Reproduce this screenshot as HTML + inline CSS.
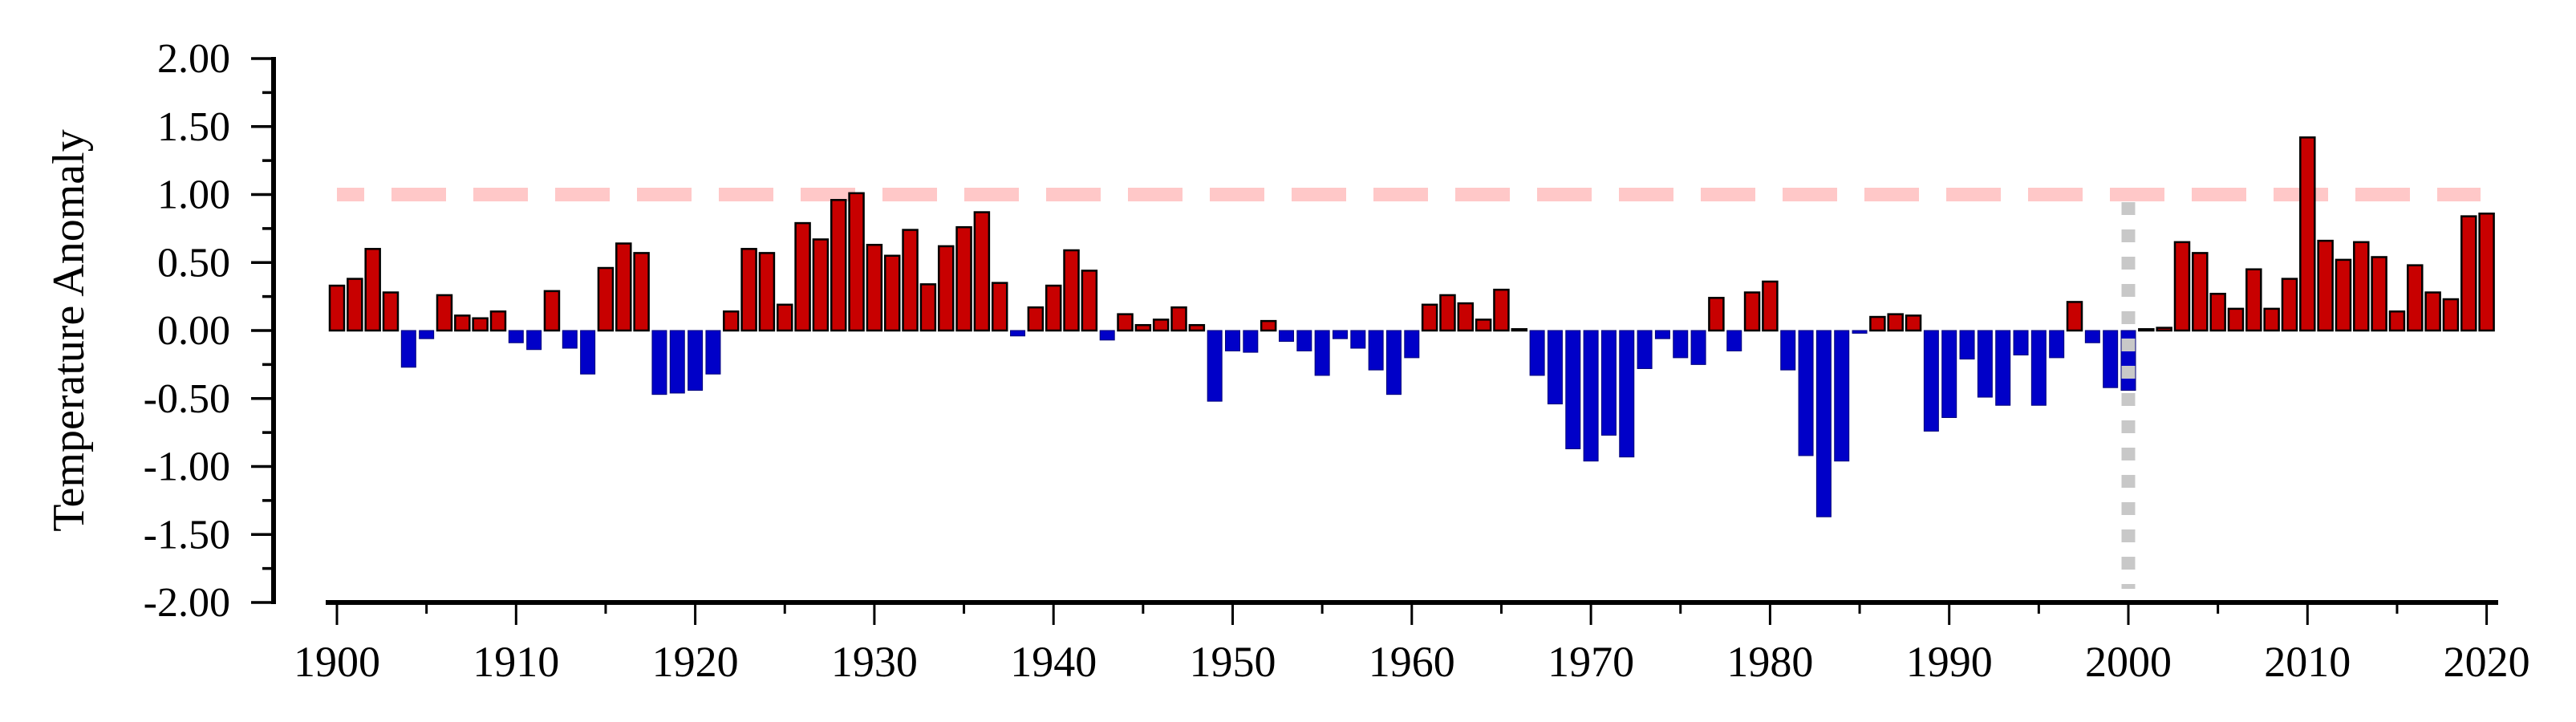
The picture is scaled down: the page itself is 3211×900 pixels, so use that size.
<!DOCTYPE html>
<html><head><meta charset="utf-8"><style>
html,body{margin:0;padding:0;background:#fff;width:3211px;height:900px;overflow:hidden}
svg{display:block}
text{font-family:"Liberation Serif",serif;fill:#000}
</style></head><body>
<svg id="chart" width="3211" height="900" viewBox="0 0 3211 900" xmlns="http://www.w3.org/2000/svg">
<g id="grid"></g>
<g id="bars"></g>
<g id="axes"></g>
<text x="0" y="0" transform="translate(104,412) rotate(-90)" text-anchor="middle" font-size="56">Temperature Anomaly</text>
</svg>
<script>
const startYear = 1900;
const anomalies = [
0.33,0.38,0.60,0.28,-0.27,-0.06,0.26,0.11,0.09,0.14,
-0.09,-0.14,0.29,-0.13,-0.32,0.46,0.64,0.57,-0.47,-0.46,
-0.44,-0.32,0.14,0.60,0.57,0.19,0.79,0.67,0.96,1.01,
0.63,0.55,0.74,0.34,0.62,0.76,0.87,0.35,-0.04,0.17,
0.33,0.59,0.44,-0.07,0.12,0.04,0.08,0.17,0.04,-0.52,
-0.15,-0.16,0.07,-0.08,-0.15,-0.33,-0.06,-0.13,-0.29,-0.47,
-0.20,0.19,0.26,0.20,0.08,0.30,0.01,-0.33,-0.54,-0.87,
-0.96,-0.77,-0.93,-0.28,-0.06,-0.20,-0.25,0.24,-0.15,0.28,
0.36,-0.29,-0.92,-1.37,-0.96,-0.02,0.10,0.12,0.11,-0.74,
-0.64,-0.21,-0.49,-0.55,-0.18,-0.55,-0.20,0.21,-0.09,-0.42,
-0.44,0.01,0.02,0.65,0.57,0.27,0.16,0.45,0.16,0.38,
1.42,0.66,0.52,0.65,0.54,0.14,0.48,0.28,0.23,0.84,0.86];
const yTicks = [2.00,1.50,1.00,0.50,0.00,-0.50,-1.00,-1.50,-2.00];
const xTickLabels = [1900,1910,1920,1930,1940,1950,1960,1970,1980,1990,2000,2010,2020];
const thresholdValue = 1.00;
const markerYear = 2000;

const NS="http://www.w3.org/2000/svg";
const X0=420, PX_PER_YEAR=22.33, Y0=412, PX_PER_UNIT=169.5;
const xS = yr => X0 + (yr-1900)*PX_PER_YEAR;
const yS = v => Y0 - v*PX_PER_UNIT;
function mk(tag, parent, attrs){const e=document.createElementNS(NS,tag);for(const k in attrs)e.setAttribute(k,attrs[k]);parent.appendChild(e);return e;}
const grid=document.getElementById('grid'), bars=document.getElementById('bars'), axes=document.getElementById('axes');

// threshold dashed line
let th=mk('line',grid,{x1:X0,x2:3092,y1:yS(thresholdValue),y2:yS(thresholdValue),stroke:'#ffc8c8','stroke-width':17,'stroke-dasharray':'34 34 68 34'});


th.setAttribute('stroke-dasharray','0 0 34 34 68 34');
th.setAttribute('stroke-dasharray','');
th.setAttribute('stroke-dasharray','68 34');
th.setAttribute('stroke-dashoffset','34');

// bars
anomalies.forEach((v,i)=>{
  const yr=startYear+i, cx=xS(yr), w=18;
  const top=Math.min(yS(v),yS(0)), h=Math.max(Math.abs(yS(v)-yS(0)),1.5);
  const pos=v>=0;
  const r=mk('rect',bars,{x:cx-w/2,y:top,width:w,height:h,fill:pos?'#c80000':'#0000c8',stroke:pos?'#000':'#00007a','stroke-width':pos?2.5:1});
  
  
});

// marker vertical dotted line
let mv=mk('line',grid,{x1:xS(markerYear),x2:xS(markerYear),y1:252,y2:734,stroke:'#c8c8c8','stroke-width':17,'stroke-dasharray':'16 18'});


axes.parentNode.appendChild(mv);

// y axis
let ya=mk('line',axes,{x1:341,x2:341,y1:yS(2)-2,y2:yS(-2)+2,stroke:'#000','stroke-width':6});


for(let i=0;i<yTicks.length;i++){
  const v=yTicks[i];
  let t=mk('line',axes,{x1:313,x2:341,y1:yS(v),y2:yS(v),stroke:'#000','stroke-width':3.5});
  
  
  let lb=mk('text',axes,{x:287,y:yS(v)+17,'text-anchor':'end','font-size':52});
  lb.textContent=v.toFixed(2);
  
  
  if(i<yTicks.length-1){
    let m=mk('line',axes,{x1:327,x2:341,y1:yS(v-0.25),y2:yS(v-0.25),stroke:'#000','stroke-width':3.5});
    
    
  }
}
// x axis
let xa=mk('line',axes,{x1:406,x2:3114,y1:751,y2:751,stroke:'#000','stroke-width':6});


xTickLabels.forEach((yr,i)=>{
  let t=mk('line',axes,{x1:xS(yr),x2:xS(yr),y1:751,y2:779,stroke:'#000','stroke-width':3});
  
  
  let lb=mk('text',axes,{x:xS(yr),y:843,'text-anchor':'middle','font-size':54});
  lb.textContent=yr;
  
  
  if(i<xTickLabels.length-1){
    let m=mk('line',axes,{x1:xS(yr+5),x2:xS(yr+5),y1:751,y2:765,stroke:'#000','stroke-width':3});
    
    
  }
});
</script>
</body></html>
